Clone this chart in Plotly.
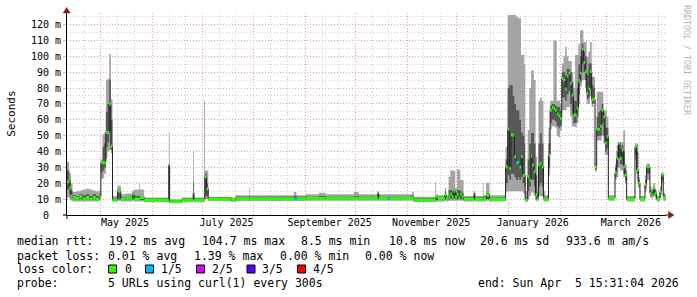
import plotly.graph_objects as go

# ---------------- data ----------------
dates = [
    "2025-04-10 15:31:04", "2025-04-12", "2025-04-13", "2025-04-14", "2025-04-16", "2025-04-18",
    "2025-04-20", "2025-04-22", "2025-04-24", "2025-04-26", "2025-04-28", "2025-04-30",
    "2025-05-01", "2025-05-02", "2025-05-03", "2025-05-04", "2025-05-05", "2025-05-06",
    "2025-05-07", "2025-05-08", "2025-05-11", "2025-05-13", "2025-05-16", "2025-05-20",
    "2025-05-21", "2025-05-24", "2025-05-24 12:00", "2025-05-27", "2025-06-10 20:00",
    "2025-06-11 08:00", "2025-06-18 16:00", "2025-06-25 12:00", "2025-06-26", "2025-07-02",
    "2025-07-02 12:00", "2025-07-03 12:00", "2025-07-04 12:00", "2025-07-18 12:00", "2025-07-21",
    "2025-07-29", "2025-07-29 12:00", "2025-08-25", "2025-08-26 12:00", "2025-09-01",
    "2025-09-09", "2025-09-13", "2025-09-30", "2025-10-03", "2025-10-14 12:00", "2025-10-15",
    "2025-10-20 12:00", "2025-10-21 18:00", "2025-11-04", "2025-11-05", "2025-11-18",
    "2025-11-18 12:00", "2025-11-19 12:00", "2025-11-23 18:00", "2025-11-24 12:00",
    "2025-11-26", "2025-11-27", "2025-11-28", "2025-11-29", "2025-11-30", "2025-12-01",
    "2025-12-02", "2025-12-03", "2025-12-04", "2025-12-05", "2025-12-11 06:00",
    "2025-12-11 18:00", "2025-12-16 12:00", "2025-12-17", "2025-12-18 12:00", "2025-12-20 12:00",
    "2025-12-30 06:00", "2025-12-31 12:00", "2026-01-01 12:00", "2026-01-02 12:00",
    "2026-01-03 12:00", "2026-01-04 12:00", "2026-01-05 12:00", "2026-01-06 18:00",
    "2026-01-07 12:00", "2026-01-08 12:00", "2026-01-09 12:00", "2026-01-10 12:00",
    "2026-01-11", "2026-01-12 12:00", "2026-01-13 12:00", "2026-01-14 12:00",
    "2026-01-15 06:00", "2026-01-16 06:00", "2026-01-17 06:00", "2026-01-18 06:00",
    "2026-01-19", "2026-01-20", "2026-01-21", "2026-01-22", "2026-01-23", "2026-01-25",
    "2026-01-26", "2026-01-27", "2026-01-28", "2026-01-29", "2026-01-30", "2026-01-31",
    "2026-02-01", "2026-02-02", "2026-02-03", "2026-02-04", "2026-02-05", "2026-02-06",
    "2026-02-07", "2026-02-08", "2026-02-09", "2026-02-10", "2026-02-11", "2026-02-12",
    "2026-02-13", "2026-02-14", "2026-02-15", "2026-02-16", "2026-02-17", "2026-02-18",
    "2026-02-19", "2026-02-20", "2026-02-21", "2026-02-22", "2026-02-23", "2026-02-24",
    "2026-02-25", "2026-02-26", "2026-02-27", "2026-02-28", "2026-03-01", "2026-03-02",
    "2026-03-06", "2026-03-07", "2026-03-08", "2026-03-09", "2026-03-10", "2026-03-11",
    "2026-03-12", "2026-03-13", "2026-03-18", "2026-03-19", "2026-03-20", "2026-03-21",
    "2026-03-24", "2026-03-25", "2026-03-26", "2026-03-27", "2026-03-28", "2026-03-29",
    "2026-03-30", "2026-03-31", "2026-04-02", "2026-04-03", "2026-04-04", "2026-04-05",
    "2026-04-05 15:31:04",
]

# median round-trip time (ms)
median = [
    21, 17, 12, 11, 10.5, 11.5, 10, 11, 10, 11, 10, 11.5,
    33, 33, 33, 52, 52, 70, 43.5, 9.5, 15, 10, 10.5, 13,
    10, 10, 11, 9.5, 31.5, 8.4, 9.4, 14, 9.4, 10,
    24, 16.5, 10, 9.3, 10.3, 10.3, 10.3, 10.3, 10.3, 10.5,
    10.5, 10.5, 10.5, 10.5, 14, 10.5, 10.5, 10.5, 10.5, 9.4, 9.4,
    11.5, 10.5, 12.6, 10.5, 11.5, 13, 11.5, 15, 11.5, 13,
    11, 13, 11.5, 9.9, 14, 9.9, 10, 10, 12.6, 10,
    30.4, 54, 29.4, 50.4, 50.4, 36.7, 33, 33, 30.4, 36.7, 24.8, 24.8,
    9.4, 24, 22, 37, 31.5, 27.3, 12.6, 10.5,
    31.5, 32.6, 30.4, 10.5, 9.9, 37.8,
    66, 67.8, 67.2, 66, 63.6, 62.4,
    61, 86, 85, 79.4, 87.6, 89.3, 83, 75.6, 63, 63, 67.2, 84.6,
    89.3, 104.4, 96, 90.3, 77, 79.4, 90.3, 72.9, 72.9, 30.4, 54, 54,
    56, 66, 62, 45.6, 49.3, 10.5,
    26.7, 35.7, 45.2, 35.7, 41, 30.4, 25.2, 10, 43, 28.3, 20, 10,
    19, 30.4, 30.4, 13.7, 12.6, 16.8, 13.7, 10, 14.7, 25.2, 11.5, 10.8,
    10.8,
]

# smoke: lowest, 2nd, 4th and highest of the 5 pings (ms)
ping_min = [
    11, 10, 9, 8.5, 8.5, 8.5, 8.5, 8.5, 8.5, 8.5, 8.5, 9,
    23, 23, 26, 36, 40, 41, 39, 8.5, 9, 8.5, 8.5, 9,
    8.5, 8.5, 8.5, 8, 9, 7.5, 8, 9, 8, 8.5,
    10, 10, 8.8, 8.5, 8.8, 8.8, 8.8, 8.8, 8.8, 9,
    9, 9, 9, 9, 9, 9, 9, 9, 9, 8.2, 8.2,
    8.5, 8.5, 9, 8.5, 9, 9, 9, 9, 9, 9,
    9, 9, 9, 8.5, 9, 8.5, 8.5, 8.5, 9, 8.5,
    14.7, 15, 15, 15, 15, 15, 15, 15, 15, 15, 14, 13,
    8.5, 10, 12, 14, 14, 12, 9, 8.5,
    12, 12, 12, 8.5, 8.5, 25,
    54, 56, 56, 55, 50, 49,
    53, 66, 66, 66, 68, 68, 62, 56, 55.6, 55.6, 58, 70,
    81, 85, 85, 80, 70, 70, 75, 68, 70, 27.3, 47, 47,
    47, 50, 45, 37.8, 37.8, 9,
    22, 24, 30, 28, 28, 24, 20, 8.5, 35, 22, 17, 8.5,
    15, 22, 22, 11, 10.5, 12, 10.5, 8.5, 11, 20, 9, 9,
    9,
]
ping_q1 = [
    16, 13, 10.5, 10, 9.5, 10, 9.5, 10, 9.5, 10, 9.5, 10.5,
    27, 28, 30, 43, 46, 52, 41, 9, 10, 9.5, 9.5, 10,
    9.5, 9.5, 9.5, 9, 10, 8, 9, 10, 9, 9,
    12, 12, 9.5, 9, 9.8, 9.8, 9.8, 9.8, 9.8, 10,
    10, 10, 10, 10, 10, 10, 10, 10, 10, 9, 9,
    9.5, 9.5, 10, 9.5, 10, 10.5, 10, 10.5, 10, 10,
    10, 10, 10, 9.5, 9.5, 9.5, 9.5, 9.5, 10, 9.5,
    20, 25, 22, 26, 26, 24, 22, 24, 22, 24, 20, 18,
    9, 15, 18, 22, 22, 18, 10, 9.5,
    18, 20, 18, 9.5, 9.3, 30,
    58, 60, 60, 59, 56, 55,
    56, 74, 74, 72, 76, 78, 70, 64, 58, 58, 62, 76,
    84, 95, 90, 85, 73, 74, 80, 70, 71, 28.5, 50, 50,
    50, 58, 50, 40, 42, 10,
    24, 30, 36, 32, 32, 26, 22, 9.5, 38, 26, 18.5, 9.5,
    17, 26, 26, 12.5, 11.5, 14, 12, 9.5, 13, 22, 10.5, 10,
    10,
]
ping_q3 = [
    28, 22, 15, 12.5, 12, 13, 12.5, 13, 12, 13, 12, 13,
    33.5, 43, 45, 65, 70, 85, 60, 10.5, 16, 11, 11.5, 14,
    12, 12, 12, 10.5, 31.5, 9.5, 10.5, 21, 10.5, 12,
    26, 20, 11, 10, 11.5, 12, 11.5, 12, 11.5, 11.5,
    12, 11.5, 12, 11.5, 14, 11.5, 11.5, 11.5, 12.5, 10.5, 11,
    12, 11.5, 15, 11.5, 15.7, 15.7, 15, 16, 14, 15.7,
    15.7, 15, 14, 11, 14, 11, 12, 11, 13.8, 11,
    35, 80, 82, 82, 75, 70, 66, 66, 60, 52, 50, 45,
    11, 35, 45, 51.6, 51.6, 45, 25, 12,
    45, 51.6, 45, 12, 11, 45,
    69, 70, 70, 69, 68, 68,
    66, 90, 90, 88, 92, 92, 90, 84, 72, 72, 80, 95,
    100, 108, 103, 100, 88, 95.5, 95.5, 82, 80, 31, 62, 65,
    66, 70, 64, 55, 55, 11.5,
    30, 40, 46, 42, 44, 40, 28, 11, 44, 40, 22, 11,
    22, 31, 31, 15.5, 14.5, 18, 15, 11, 16, 26.3, 13, 12,
    12,
]
ping_max = [
    33.5, 26.5, 20, 14.5, 15, 15.5, 16, 16.5, 16, 15.5, 15, 15.5,
    35, 51, 52, 85, 86, 101.5, 73, 12, 18.5, 13, 13.5, 15.5,
    16, 20.5, 16, 11, 52, 10, 11, 40, 11, 72,
    28, 28, 11.5, 11, 12.5, 16.8, 12.5, 14.5, 12.5, 13,
    14, 13, 14.5, 13, 15, 13, 13, 13, 14.7, 11.5, 21,
    13, 12.5, 17, 12.5, 24, 28, 28, 27.9, 16.8, 28.8,
    28.5, 22, 22, 12, 15, 12, 20.4, 12.5, 20.4, 12.5,
    43, 126, 126, 126, 126, 126, 125, 124, 124, 100.8, 100.8, 95,
    15, 53.5, 80, 91, 91, 85, 36.7, 15,
    72, 74, 72, 15, 12.5, 55,
    72, 72, 110, 110, 72, 72,
    70, 95.5, 100, 106, 100, 97, 97, 90, 80, 100.8, 100.8, 108,
    116.5, 116.5, 109, 109, 99.7, 103, 109, 87, 87, 32.7, 77.7, 77.7,
    77.7, 77.7, 66, 66, 62, 12.5,
    32, 44, 46, 46, 46, 53.5, 32, 12, 45, 45, 24, 12,
    25, 32.5, 32.5, 18, 16, 20, 16, 12, 18, 27, 14, 13,
    13,
]

# number of lost pings (out of 5) for each sample
loss = [0] * len(dates)
loss[dates.index("2025-08-25")] = 1
loss[dates.index("2025-10-20 12:00")] = 1
loss[dates.index("2026-01-05 12:00")] = 1

loss_levels = [0, 1, 2, 3, 4]
loss_labels = ["0", "1/5", "2/5", "3/5", "4/5"]
loss_colors = ["#26ff00", "#00b8ff", "#dd00ff", "#5e00ff", "#ff0000"]

x_start, x_end = "2025-04-10 15:31:04", "2026-04-05 15:31:04"
label_vals = ["2025-05-15 12:00", "2025-07-15 12:00", "2025-09-15 12:00",
              "2025-11-15 12:00", "2026-01-15 12:00", "2026-03-15 12:00"]
label_text = ["May 2025", "July 2025", "September 2025", "November 2025",
              "January 2026", "March 2026"]
month_list = [(2025, m) for m in range(4, 13)] + [(2026, m) for m in range(1, 5)]
month_starts = [f"{y}-{m:02d}-01" for y, m in month_list if (y, m) != (2025, 4)]
minor_days = [f"{y}-{m:02d}-{d}" for y, m in month_list for d in (11, 21)
              if (y, m) != (2026, 4)]
y_vals = list(range(0, 130, 10))
y_text = ["0\u00a0\u00a0"] + [f"{v} m" for v in y_vals[1:]]
y_minor = list(range(5, 130, 10))

# ---------------- figure ----------------
W, H = 697, 297
PL, PR, PT, PB = 67, 666, 13, 215
MONO = "DejaVu Sans Mono"


def px(x):
    return (x - PL) / (PR - PL)


def py(y):
    return (PB - y) / (PB - PT)


fig = go.Figure()
# outer smoke (all pings)
fig.add_trace(go.Scatter(x=dates, y=ping_min, mode="lines", line=dict(width=0, shape="hv"),
                         hoverinfo="skip", showlegend=False))
fig.add_trace(go.Scatter(x=dates, y=ping_max, mode="lines", line=dict(width=0, shape="hv"),
                         fill="tonexty", fillcolor="#a4a4a4", hoverinfo="skip", showlegend=False))
# inner smoke
fig.add_trace(go.Scatter(x=dates, y=ping_q1, mode="lines", line=dict(width=0, shape="hv"),
                         hoverinfo="skip", showlegend=False))
fig.add_trace(go.Scatter(x=dates, y=ping_q3, mode="lines", line=dict(width=0, shape="hv"),
                         fill="tonexty", fillcolor="#585858", hoverinfo="skip", showlegend=False))
# median line
fig.add_trace(go.Scatter(x=dates, y=median, mode="lines", line=dict(color="#202020", width=1, shape="hv"),
                         hoverinfo="skip", showlegend=False))
# loss-coloured median marks
for lv, col in zip(loss_levels, loss_colors):
    xs, ys = [], []
    for i in range(len(dates) - 1):
        if loss[i] == lv:
            xs += [dates[i], dates[i + 1], None]
            ys += [median[i], median[i], None]
    if xs:
        fig.add_trace(go.Scatter(x=xs, y=ys, mode="lines", line=dict(color=col, width=3),
                                 hoverinfo="skip", showlegend=False))
# helper trace for the label axis
fig.add_trace(go.Scatter(x=[x_start, x_end], y=[None, None], xaxis="x2", mode="lines",
                         hoverinfo="skip", showlegend=False))

MGRID = "#e8a4a4"
GRID = "#cfcfcf"
DASH = "1px,2px"

fig.update_layout(
    width=W, height=H,
    margin=dict(l=PL, r=W - PR, t=PT, b=H - PB),
    paper_bgcolor="white", plot_bgcolor="white",
    showlegend=False,
    xaxis=dict(type="date", range=[x_start, x_end], tickmode="array", tickvals=month_starts,
               showticklabels=False, ticks="", showgrid=True, gridcolor=MGRID, griddash=DASH,
               gridwidth=1, zeroline=False, showline=True, linecolor="#000000", linewidth=1,
               minor=dict(tickmode="array", tickvals=minor_days, showgrid=True, gridcolor=GRID,
                          griddash=DASH, gridwidth=1, ticks="")),
    xaxis2=dict(type="date", range=[x_start, x_end], overlaying="x", matches="x", anchor="y",
                side="bottom", tickmode="array", tickvals=label_vals, ticktext=label_text,
                showgrid=False, ticks="", zeroline=False, showline=False,
                tickfont=dict(family=MONO, size=10, color="#000000")),
    yaxis=dict(range=[0, 127.3], tickmode="array", tickvals=y_vals, ticktext=y_text,
               showgrid=True, gridcolor=MGRID, griddash=DASH, gridwidth=1, zeroline=False,
               showline=True, linecolor="#000000", linewidth=1, ticks="outside", ticklen=3,
               tickcolor="#bdbdbd", tickfont=dict(family=MONO, size=10, color="#000000"),
               minor=dict(tickmode="array", tickvals=y_minor, showgrid=True, gridcolor=GRID,
                          griddash=DASH, gridwidth=1, ticks="")),
)

ann = []


def text(x, y, s, size=11.5, anchor="left", color="#000000", angle=0):
    ann.append(dict(x=px(x), y=py(y), xref="paper", yref="paper", text=s, showarrow=False,
                    xanchor=anchor, yanchor="middle", borderpad=0, textangle=angle,
                    font=dict(family=MONO, size=size, color=color)))


text(10.8, 114, "Seconds", size=11, anchor="center", angle=-90)
text(687, 60, "RRDTOOL / TOBI OETIKER", size=8.3, anchor="center", color="#b4b4b4", angle=90)

L1, L2, L3, L4 = 241.5, 255.5, 269, 283
for x, s in [(16, "median rtt:"), (107.6, "19.2 ms avg"), (200.6, "104.7 ms max"),
             (300.3, "8.5 ms min"), (387.5, "10.8 ms now"), (478.6, "20.6 ms sd"),
             (564.5, "933.6 m am/s")]:
    text(x, L1, s)
for x, s in [(16, "packet loss:"), (106.8, "0.01 % avg"), (193.0, "1.39 % max"),
             (278.9, "0.00 % min"), (364.3, "0.00 % now")]:
    text(x, L2, s)
text(16, L3, "loss color:")
box_x = [108.5, 145.5, 196.5, 247, 297.5]
lab_x = [123.5, 160.2, 210.5, 261.2, 312.2]
shapes = []
for bx, lx, lab, col in zip(box_x, lab_x, loss_labels, loss_colors):
    shapes.append(dict(type="rect", xref="paper", yref="paper", x0=px(bx), x1=px(bx + 8),
                       y0=py(273), y1=py(265), fillcolor=col, line=dict(color="#000000", width=1)))
    text(lx, L3, lab)
text(16, L4, "probe:")
text(107.3, L4, "5 URLs using curl(1) every 300s")
text(680, L4, "end: Sun Apr\u00a0\u00a05 15:31:04 2026", anchor="right")

ARROW = "#8c1a1a"
shapes += [
    dict(type="line", xref="paper", yref="paper", x0=px(PR), x1=px(669), y0=0, y1=0,
         line=dict(color="#000000", width=1)),
    dict(type="line", xref="paper", yref="paper", x0=px(63), x1=0, y0=0, y1=0,
         line=dict(color="#000000", width=1)),
    dict(type="line", xref="paper", yref="paper", x0=0, x1=0, y0=py(219), y1=0,
         line=dict(color="#000000", width=1)),
    dict(type="path", xref="paper", yref="paper",
         path=f"M {px(674)},{py(215)} L {px(668.5)},{py(211.5)} L {px(668.5)},{py(218.5)} Z",
         fillcolor=ARROW, line=dict(color=ARROW, width=0.5)),
    dict(type="path", xref="paper", yref="paper",
         path=f"M {px(66.7)},{py(7.5)} L {px(63.2)},{py(13)} L {px(70.2)},{py(13)} Z",
         fillcolor=ARROW, line=dict(color=ARROW, width=0.5)),
]
fig.update_layout(annotations=ann, shapes=shapes)

fig.write_html("out.html")
